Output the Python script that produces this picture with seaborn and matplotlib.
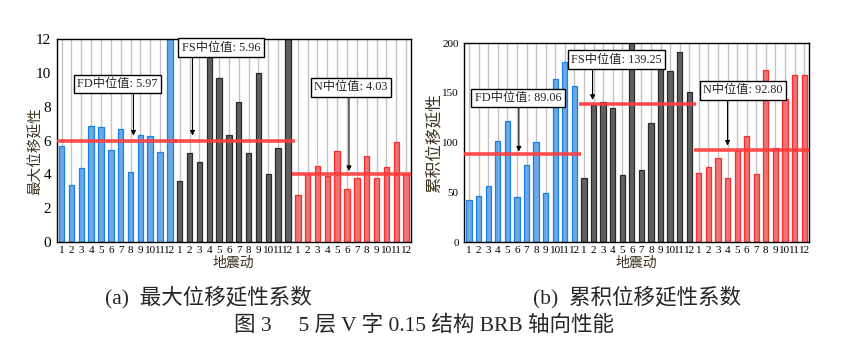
import matplotlib
matplotlib.use('Agg')
import matplotlib.pyplot as plt
import numpy as np
import pandas as pd
import seaborn as sns

groups = ['FD', 'FS', 'N']
motion_labels = [str(i) for i in range(1, 13)]

# (a) max displacement ductility
max_fd = [5.70, 3.39, 4.40, 6.87, 6.81, 5.47, 6.71, 4.16, 6.34, 6.30, 5.33, 14.0]
max_fs = [3.60, 5.27, 4.73, 11.5, 9.72, 6.36, 8.26, 5.27, 9.98, 4.04, 5.58, 13.0]
max_n = [2.79, 4.02, 4.50, 3.92, 5.39, 3.13, 3.80, 5.09, 3.80, 4.46, 5.92, 4.02]
max_medians = [5.97, 5.96, 4.03]

# (b) cumulative displacement ductility
cum_fd = [42.3, 46.3, 56.4, 101.7, 121.8, 45.3, 77.5, 100.7, 49.3, 164.1, 181.2, 157.0]
cum_fs = [64.4, 137.6, 140.9, 134.6, 67.4, 215.0, 72.5, 119.8, 192.0, 172.1, 191.3, 151.0]
cum_n = [69.1, 75.5, 84.6, 64.4, 91.3, 106.7, 68.1, 173.2, 94.3, 144.0, 168.1, 168.1]
cum_medians = [89.06, 139.25, 92.80]

face = {'FD': '#58a8f7', 'FS': '#606060', 'N': '#ff6161'}
edge = {'FD': '#1a80e8', 'FS': '#2a2a2a', 'N': '#ff2b2b'}
MIX = ['Liberation Serif', 'Noto Sans CJK SC']
LABEL_C = '#3d3320'

sns.set_style('white')
plt.rcParams['font.family'] = MIX
plt.rcParams['axes.unicode_minus'] = False


def draw_panel(ax, series, medians, ymax, yticks, boxes, ylabel, ytick_size, ylabel_size, ylabel_pos):
    vals = series[0] + series[1] + series[2]
    df = pd.DataFrame({'pos': np.arange(36),
                       'value': vals,
                       'group': [g for g in groups for _ in range(12)]})
    ax.set_axisbelow(True)
    ax.grid(axis='x', color='#c4c4c4', lw=1.0)
    sns.barplot(data=df, x='pos', y='value', hue='group', hue_order=groups,
                palette=face, dodge=False, native_scale=True, width=0.55,
                errorbar=None, legend=False, ax=ax, zorder=2)
    for cont, g in zip(ax.containers, groups):
        for p in cont:
            p.set_edgecolor(edge[g])
            p.set_linewidth(0.9)

    spans = [(-0.5, 11.7), (11.45, 23.7), (23.45, 35.5)]
    for m, (x0, x1) in zip(medians, spans):
        ax.hlines(m, x0, x1, color='#ff3b3b', lw=2.6, alpha=0.9, zorder=3)

    for name, m, (tx, ty), (ax_x, y_from, y_to) in boxes:
        ax.annotate('', xy=(ax_x, y_to), xytext=(ax_x, y_from),
                    arrowprops=dict(arrowstyle='-|>', color='black', lw=0.8,
                                    mutation_scale=7, shrinkA=0, shrinkB=0),
                    zorder=4)
        ax.text(tx, ty, f'{name}中位值: {m}', ha='center', va='center',
                fontsize=8.8, family=MIX, zorder=5,
                bbox=dict(boxstyle='square,pad=0.28', fc='white', ec='black', lw=1.0))

    ax.set_xlim(-0.5, 35.5)
    ax.set_ylim(0, ymax)
    ax.set_yticks(yticks)
    ax.set_xticks(np.arange(36))
    ax.set_xticklabels(motion_labels * 3)
    ax.tick_params(axis='x', labelsize=8, length=2, pad=1, colors='black')
    ax.tick_params(axis='y', labelsize=ytick_size, length=3, pad=1, direction='out', colors='black')
    for s in ax.spines.values():
        s.set_color('black')
        s.set_linewidth(1.0)
    ax.set_xlabel('地震动', fontsize=10, color=LABEL_C, labelpad=1)
    ax.set_ylabel(ylabel, fontsize=ylabel_size, color=LABEL_C)
    ax.yaxis.set_label_coords(*ylabel_pos)


fig = plt.figure(figsize=(8.5, 3.55), dpi=100)
ax1 = fig.add_axes([0.0667, 0.3183, 0.4168, 0.571])
ax2 = fig.add_axes([0.5462, 0.3183, 0.4055, 0.5597])

draw_panel(ax1, [max_fd, max_fs, max_n], max_medians, 12, [0, 2, 4, 6, 8, 10, 12],
           [('FD', '5.97', (5.7, 9.35), (7.3, 8.9, 6.3)),
            ('FS', '5.96', (16.2, 11.5), (13.3, 10.95, 6.3)),
            ('N', '4.03', (29.4, 9.17), (29.2, 8.65, 4.2))],
           '最大位移延性', 11, 10.5, (-0.039, 0.45))

draw_panel(ax2, [cum_fd, cum_fs, cum_n], cum_medians, 200, [0, 50, 100, 150, 200],
           [('FD', '89.06', (5.1, 145), (5.2, 137, 91)),
            ('FS', '139.25', (15.4, 183.5), (12.9, 176, 143)),
            ('N', '92.80', (28.6, 152.5), (27.0, 143.5, 97))],
           '累积位移延性', 8, 12, (-0.062, 0.5))

fig.text(0.245, 0.163, '(a)  最大位移延性系数', ha='center', va='center', fontsize=15.5, family=MIX)
fig.text(0.749, 0.163, '(b)  累积位移延性系数', ha='center', va='center', fontsize=15.5, family=MIX)
fig.text(0.499, 0.082, '图 3     5 层 V 字 0.15 结构 BRB 轴向性能', ha='center', va='center',
         fontsize=15.5, family=MIX)

fig.savefig('out.png', dpi=100)
